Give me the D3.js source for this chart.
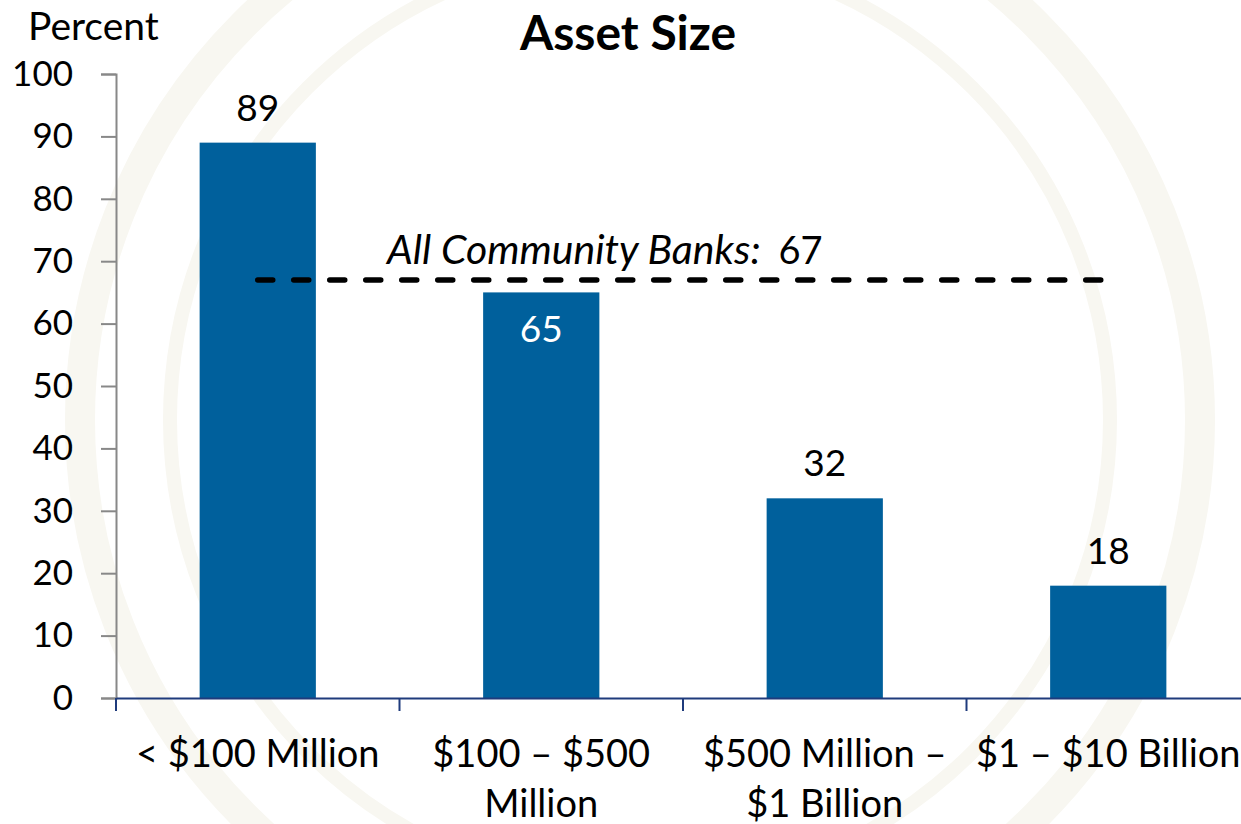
<!DOCTYPE html>
<html>
<head>
<meta charset="utf-8">
<script src="https://cdn.jsdelivr.net/npm/d3@7"></script>
<style>
  body { margin: 0; background: #fff; }
  svg { display: block; font-family: Lato, "Noto Sans", sans-serif; }
</style>
</head>
<body>
<svg id="chart" width="1241" height="824"></svg>
<script>
// データ
const categories = ["< $100 Million", "$100 – $500 Million", "$500 Million – $1 Billion", "$1 – $10 Billion"];
const categoryLines = [["< $100 Million"], ["$100 – $500", "Million"], ["$500 Million –", "$1 Billion"], ["$1 – $10 Billion"]];
const values = [89, 65, 32, 18];
const allBanks = 67;
const yTicks = [0, 10, 20, 30, 40, 50, 60, 70, 80, 90, 100];

const svg = d3.select("#chart");
const mLeft = 116, mRight = 1250, mTop = 74, mBottom = 698;

const x = d3.scaleBand().domain(categories).range([mLeft, mRight]).paddingInner(0.59).paddingOuter(0.295);
const xAxisScale = d3.scaleBand().domain(categories).range([mLeft, mRight]);
const y = d3.scaleLinear().domain([0, 100]).range([mBottom, mTop]);

// 透かし（薄い円）
const wm = svg.append("g").attr("fill", "none").attr("stroke", "#f8f7f1");
wm.append("circle").attr("cx", 640).attr("cy", 420).attr("r", 560).attr("stroke-width", 30);
wm.append("circle").attr("cx", 640).attr("cy", 420).attr("r", 470).attr("stroke-width", 14);

// y軸
const yAxis = svg.append("g")
  .attr("transform", `translate(${mLeft},0)`)
  .call(d3.axisLeft(y).tickValues(yTicks).tickSize(15).tickPadding(28));
yAxis.select(".domain").attr("stroke", "#888").attr("stroke-width", 2);
yAxis.selectAll(".tick line").attr("stroke", "#888").attr("stroke-width", 2);
yAxis.selectAll(".tick text")
  .attr("font-size", 35).attr("fill", "#000").attr("font-family", "Lato");

// バー
svg.selectAll("rect.bar")
  .data(values)
  .enter()
  .append("rect")
  .attr("class", "bar")
  .attr("x", (d, i) => x(categories[i]))
  .attr("y", d => y(d))
  .attr("width", x.bandwidth())
  .attr("height", d => y(0) - y(d))
  .attr("fill", "#00609c");

// x軸
const xAxis = svg.append("g")
  .attr("transform", `translate(0,${mBottom})`)
  .call(d3.axisBottom(xAxisScale).tickSize(0).tickFormat(""));
xAxis.select(".domain").attr("stroke", "#1f3b7c").attr("stroke-width", 2);
xAxis.selectAll(".tick").remove();
const boundaries = categories.map(c => xAxisScale(c)).concat([mRight]);
xAxis.selectAll("line.tk")
  .data(boundaries)
  .enter()
  .append("line")
  .attr("x1", d => d).attr("x2", d => d)
  .attr("y1", 0).attr("y2", 13)
  .attr("stroke", "#1f3b7c").attr("stroke-width", 2);

// x軸ラベル
svg.selectAll("text.xl")
  .data(categoryLines)
  .enter()
  .append("text")
  .attr("class", "xl")
  .attr("text-anchor", "middle")
  .attr("font-size", 38)
  .attr("x", (d, i) => x(categories[i]) + x.bandwidth() / 2)
  .attr("y", 767)
  .each(function(lines) {
    d3.select(this).selectAll("tspan")
      .data(lines)
      .enter()
      .append("tspan")
      .attr("x", d3.select(this).attr("x"))
      .attr("dy", (d, j) => j === 0 ? 0 : 50)
      .text(d => d);
  });

// 値ラベル
svg.selectAll("text.val")
  .data(values)
  .enter()
  .append("text")
  .attr("class", "val")
  .attr("text-anchor", "middle")
  .attr("font-size", 37)
  .attr("x", (d, i) => x(categories[i]) + x.bandwidth() / 2)
  .attr("y", d => d === 65 ? y(d) + 50 : y(d) - 22)
  .attr("fill", d => d === 65 ? "#fff" : "#000")
  .text(d => d);

// 全コミュニティバンク平均線
const x1 = x(categories[0]) + x.bandwidth() / 2;
const x2 = x(categories[3]) + x.bandwidth() / 2;
svg.append("line")
  .attr("x1", x1).attr("x2", x2)
  .attr("y1", y(allBanks)).attr("y2", y(allBanks))
  .attr("stroke", "#000")
  .attr("stroke-width", 5.5)
  .attr("stroke-linecap", "round")
  .attr("stroke-dasharray", "15,21");

const lab = svg.append("text")
  .attr("x", 387).attr("y", y(allBanks) - 16)
  .attr("font-size", 41);
lab.append("tspan").attr("font-style", "italic").text("All Community Banks:");
lab.append("tspan").attr("dx", 18).attr("font-size", 38).text(allBanks);

// タイトル
svg.append("text")
  .attr("x", 628).attr("y", 50)
  .attr("text-anchor", "middle")
  .attr("font-size", 48)
  .attr("font-weight", "bold")
  .text("Asset Size");

svg.append("text")
  .attr("x", 28).attr("y", 40)
  .attr("font-size", 39)
  .text("Percent");
</script>
</body>
</html>
